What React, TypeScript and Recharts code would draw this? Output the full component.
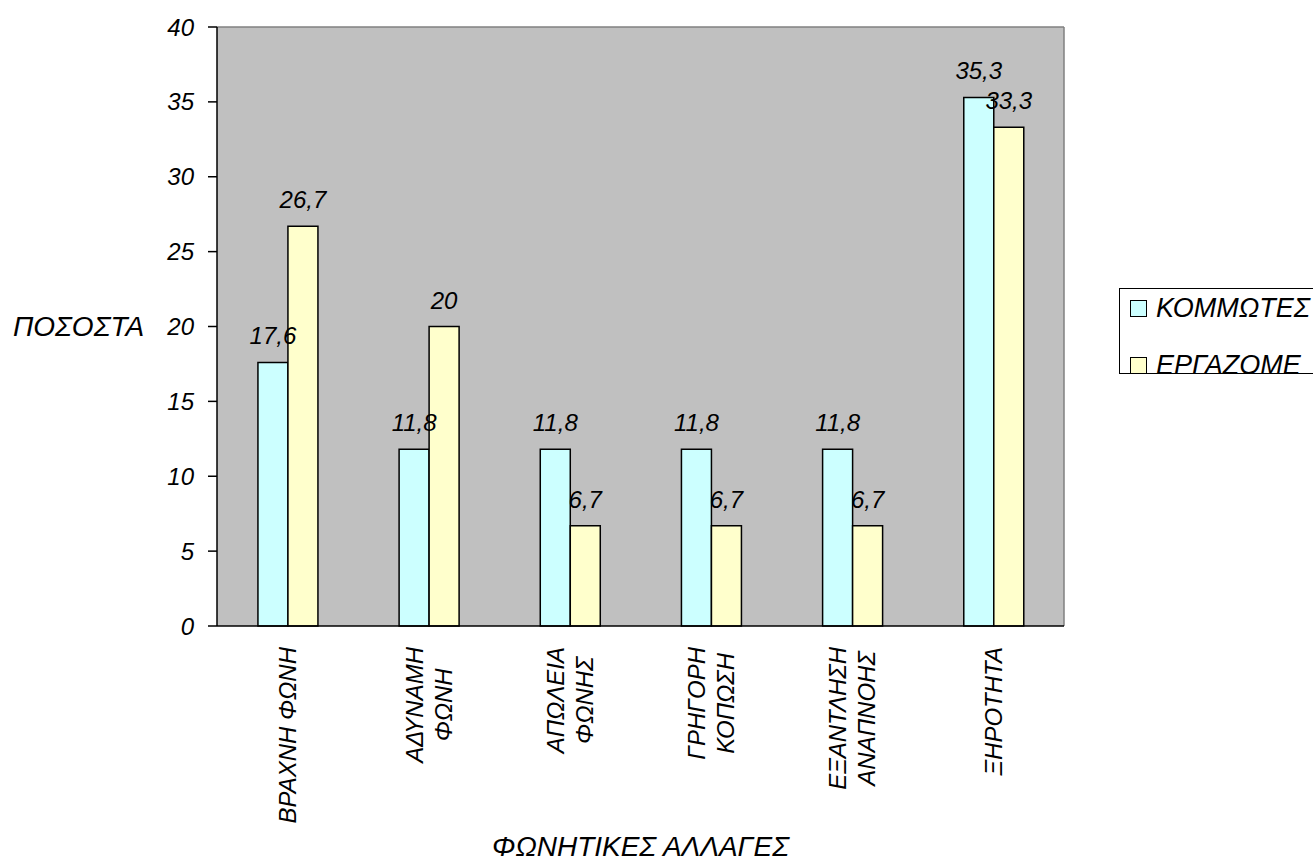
import React from "react";
import {
  BarChart,
  Bar,
  XAxis,
  YAxis,
  CartesianGrid,
  LabelList,
} from "recharts";

const categories = [
  "ΒΡΑΧΝΗ ΦΩΝΗ",
  "ΑΔΥΝΑΜΗ\nΦΩΝΗ",
  "ΑΠΩΛΕΙΑ\nΦΩΝΗΣ",
  "ΓΡΗΓΟΡΗ\nΚΟΠΩΣΗ",
  "ΕΞΑΝΤΛΗΣΗ\nΑΝΑΠΝΟΗΣ",
  "ΞΗΡΟΤΗΤΑ",
];
const kommotes = [17.6, 11.8, 11.8, 11.8, 11.8, 35.3];
const ergazomenoi = [26.7, 20, 6.7, 6.7, 6.7, 33.3];
const seriesNames = ["ΚΟΜΜΩΤΕΣ", "ΕΡΓΑΖΟΜΕ"];
const seriesColors = ["#CCFFFF", "#FFFFCC"];
const yTicks = [0, 5, 10, 15, 20, 25, 30, 35, 40];
const edgeTicks = [0, 1, 2, 3, 4, 5, 6];

const data = categories.map((name, i) => ({
  name,
  a: kommotes[i],
  b: ergazomenoi[i],
}));

const FONT = '"Liberation Sans", Arial, sans-serif';
const TICK_FONT = 24;

let ctx: CanvasRenderingContext2D | null = null;
const textWidth = (s: string) => {
  if (!ctx) ctx = document.createElement("canvas").getContext("2d");
  if (!ctx) return s.length * 14;
  ctx.font = `italic ${TICK_FONT}px ${FONT}`;
  return ctx.measureText(s).width;
};

const comma = (v: any) => String(v).replace(".", ",");

// rotated, centred multi-line category labels
const CatTick = (props: any) => {
  const { x, y, payload } = props;
  const lines = String(payload.value).split("\n");
  const maxW = Math.max(...lines.map(textWidth));
  const cy = y + 5 + maxW / 2;
  const lh = 29;
  return (
    <g>
      {lines.map((ln, i) => {
        const lx = x + (i - (lines.length - 1) / 2) * lh;
        return (
          <text
            key={i}
            x={lx}
            y={cy}
            transform={`rotate(-90, ${lx}, ${cy})`}
            textAnchor="middle"
            dominantBaseline="central"
            fontSize={TICK_FONT}
            fontStyle="italic"
            fill="#000"
          >
            {ln}
          </text>
        );
      })}
    </g>
  );
};

export default function App() {
  return (
    <div
      style={{
        position: "absolute",
        left: 0,
        top: 0,
        width: 1313,
        height: 865,
        overflow: "hidden",
        background: "#fff",
        fontFamily: FONT,
      }}
    >
      <BarChart
        width={1313}
        height={865}
        data={data}
        margin={{ top: 27, right: 249, left: 0, bottom: 0 }}
        barCategoryGap="29%"
        barGap={0}
        style={{ fontFamily: FONT }}
      >
        <CartesianGrid
          fill="#C0C0C0"
          stroke="#808080"
          strokeWidth={1.5}
          horizontalCoordinatesGenerator={({ offset }: any) => [offset.top]}
          verticalCoordinatesGenerator={({ offset }: any) => [
            offset.left + offset.width,
          ]}
        />
        <XAxis
          xAxisId="b"
          dataKey="name"
          height={231}
          axisLine={false}
          tickLine={false}
          interval={0}
          tick={<CatTick />}
          label={{
            value: "ΦΩΝΗΤΙΚΕΣ ΑΛΛΑΓΕΣ",
            position: "insideBottom",
            offset: 9,
            fontSize: 28,
            fontStyle: "italic",
            fill: "#000",
          }}
        />
        <XAxis
          xAxisId="a"
          type="number"
          domain={[0, 6]}
          ticks={edgeTicks}
          allowDataOverflow
          height={8}
          tick={false}
          tickSize={7}
          axisLine={{ stroke: "#000", strokeWidth: 1.5 }}
          tickLine={{ stroke: "#000", strokeWidth: 1.5 }}
        />
        <YAxis
          width={217}
          domain={[0, 40]}
          ticks={yTicks}
          interval={0}
          tickSize={9}
          tickMargin={14}
          axisLine={{ stroke: "#000", strokeWidth: 1.5 }}
          tickLine={{ stroke: "#000", strokeWidth: 1.5 }}
          tick={{ fill: "#000", fontSize: TICK_FONT, fontStyle: "italic" }}
          label={{
            value: "ΠΟΣΟΣΤΑ",
            position: "insideLeft",
            offset: 13,
            fontSize: 28,
            fontStyle: "italic",
            fill: "#000",
          }}
        />
        <Bar
          xAxisId="b"
          dataKey="a"
          name={seriesNames[0]}
          fill={seriesColors[0]}
          stroke="#000"
          strokeWidth={1.5}
          isAnimationActive={false}
        >
          <LabelList
            dataKey="a"
            position="top"
            offset={18}
            formatter={comma}
            fontSize={TICK_FONT}
            fontStyle="italic"
            fill="#000"
          />
        </Bar>
        <Bar
          xAxisId="b"
          dataKey="b"
          name={seriesNames[1]}
          fill={seriesColors[1]}
          stroke="#000"
          strokeWidth={1.5}
          isAnimationActive={false}
        >
          <LabelList
            dataKey="b"
            position="top"
            offset={18}
            formatter={comma}
            fontSize={TICK_FONT}
            fontStyle="italic"
            fill="#000"
          />
        </Bar>
      </BarChart>
      <div
        style={{
          position: "absolute",
          left: 1119,
          top: 288,
          width: 300,
          height: 86,
          boxSizing: "border-box",
          border: "1.5px solid #000",
          background: "#fff",
          overflow: "hidden",
        }}
      >
        {seriesNames.map((n, i) => (
          <div key={n}>
            <div
              style={{
                position: "absolute",
                left: 10,
                top: 11 + i * 57,
                width: 15,
                height: 15,
                background: seriesColors[i],
                border: "1.5px solid #000",
              }}
            />
            <span
              style={{
                position: "absolute",
                left: 36,
                top: 6 + i * 57,
                fontSize: 27,
                lineHeight: "27px",
                fontStyle: "italic",
                color: "#000",
                whiteSpace: "nowrap",
              }}
            >
              {n}
            </span>
          </div>
        ))}
      </div>
    </div>
  );
}
